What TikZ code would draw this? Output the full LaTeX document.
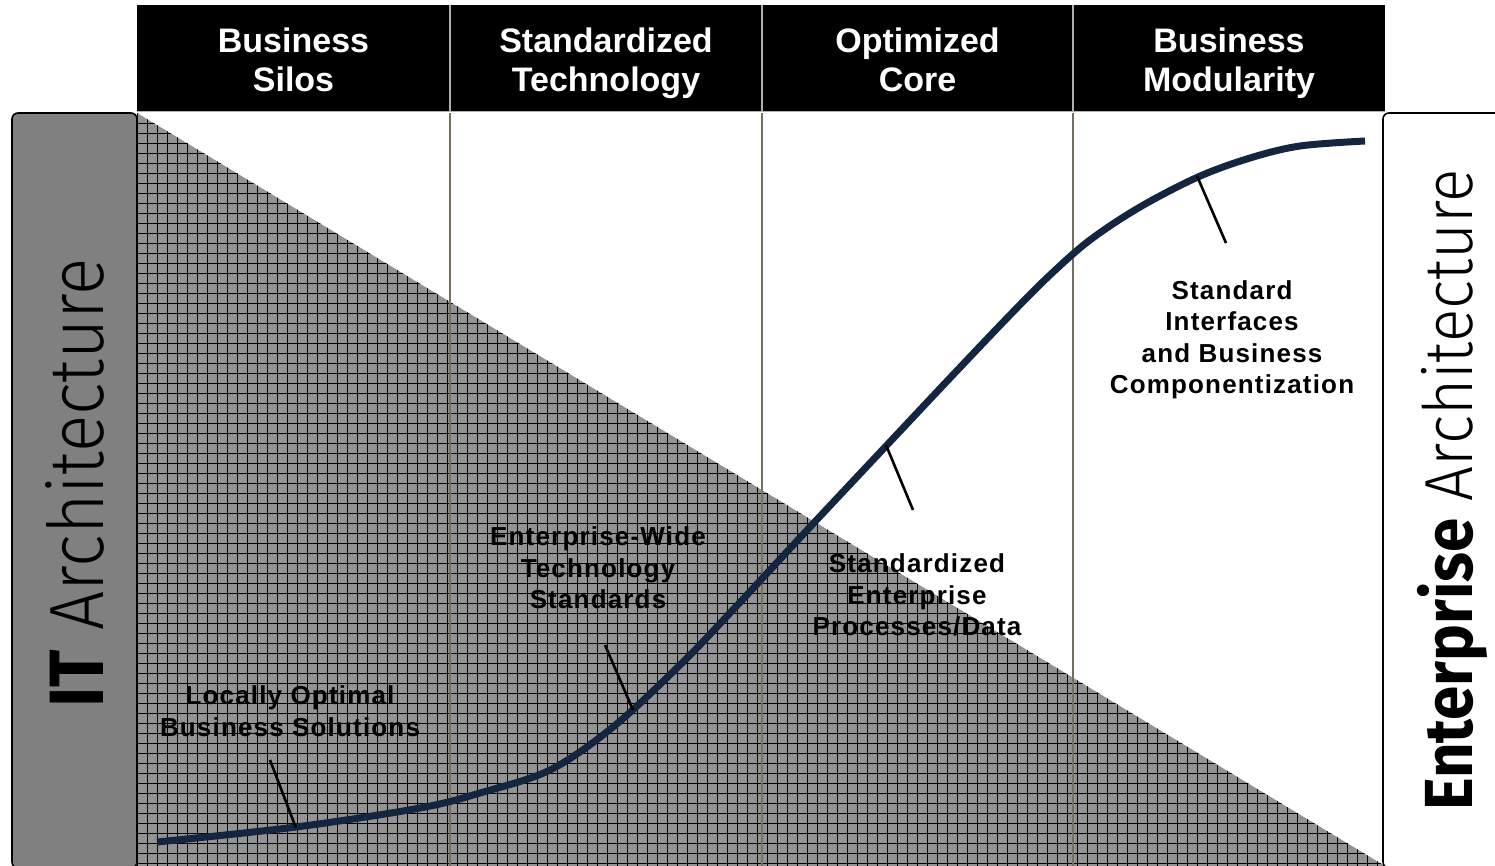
\documentclass[tikz,border=0pt]{standalone}
\usepackage{fontspec}
\setmainfont{Liberation Sans}
\newfontfamily\lblf{Liberation Sans}[LetterSpace=4.5]
\newfontfamily\sidef{Fira Sans}
\newfontfamily\lightf{Fira Sans Light}
\definecolor{gridgray}{HTML}{939393}
\definecolor{boxgray}{HTML}{808080}
\definecolor{navy}{HTML}{14263F}
\definecolor{divider}{HTML}{77705F}
\definecolor{headdiv}{HTML}{B0B0B0}
\tikzset{
  hdr/.style={text=white, anchor=base, font=\bfseries\fontsize{34}{40}\selectfont, inner sep=0pt},
  lbl/.style={text=black, align=center, font=\lblf\bfseries\fontsize{26}{31.5}\selectfont, inner sep=0pt},
  tick/.style={line width=2.6pt, black},
  curve/.style={line width=7pt, navy},
  side/.style={rotate=90, anchor=base, inner sep=0pt}
}
\begin{document}
\begin{tikzpicture}[x=1pt,y=-1pt]
\useasboundingbox (0,0) rectangle (1495,866);
% triangle with grid
\begin{scope}
  \clip (137,113) -- (137,866) -- (1385,866) -- cycle;
  \fill[gridgray] (137,113) rectangle (1385,866);
  \foreach \x in {137,147,...,1385} \draw[black, line width=0.75pt] (\x,113) -- (\x,866);
  \foreach \y in {113,123,...,866} \draw[black, line width=0.75pt] (137,\y) -- (1385,\y);
\end{scope}
% body dividers
\foreach \x in {450,762,1073} \draw[divider, line width=1.2pt] (\x,113) -- (\x,866);
% header
\fill[black] (137,5) rectangle (1385,112);
\foreach \x in {450,762,1073} \draw[headdiv, line width=1.2pt] (\x,5) -- (\x,112);
\draw[headdiv, line width=1pt] (137,112) -- (1385,112);
\node[hdr] (h1a) at (293.5,53) {Business};
\node[hdr] (h1b) at (293.5,92) {Silos};
\node[hdr] (h2a) at (606,53) {Standardized};
\node[hdr] (h2b) at (606,92) {Technology};
\node[hdr] (h3a) at (917.5,53) {Optimized};
\node[hdr] (h3b) at (917.5,92) {Core};
\node[hdr] (h4a) at (1229,53) {Business};
\node[hdr] (h4b) at (1229,92) {Modularity};
% side boxes
\draw[fill=boxgray, line width=1.6pt, rounded corners=6pt] (12,113) rectangle (137,868);
\draw[fill=white, line width=1.6pt, rounded corners=6pt] (1383,113) rectangle (1510,868);
\node[side] (itlab) at (103,483) {\scalebox{0.9}[1]{\fontsize{77}{80}\selectfont{\sidef\bfseries IT} {\lightf Architecture}}};
\node[side] (ealab) at (1472,490) {\scalebox{0.91}[1]{\fontsize{68}{72}\selectfont{\sidef\bfseries Enterprise} {\lightf Architecture}}};
% curve
\draw[curve, line cap=butt] plot[smooth, tension=0.55] coordinates {
  (157,842) (296,827) (420,808) (480,793) (550,770) (613,727) (680,665) (730,613)
  (810,527) (887,445) (950,378) (1010,315) (1050,275) (1090,240) (1140,207)
  (1198,177) (1250,158) (1300,146) (1365,141)};
% labels
\node[lbl] (l1) at (290,711) {Locally Optimal\\Business Solutions};
\node[lbl] (l2) at (598,568) {Enterprise-Wide\\Technology\\Standards};
\node[lbl] (l3) at (917,595) {Standardized\\Enterprise\\Processes/Data};
\node[lbl] (l4) at (1232,340) {Standard\\Interfaces\\and Business\\Componentization};
% ticks
\coordinate (t1a) at (296,828); \coordinate (t1b) at (270,760);
\coordinate (t2a) at (633,710); \coordinate (t2b) at (605,645);
\coordinate (t3a) at (886,445); \coordinate (t3b) at (913,510);
\coordinate (t4a) at (1197,176); \coordinate (t4b) at (1226,243);
\draw[tick] (t1a) -- (t1b);
\draw[tick] (t2a) -- (t2b);
\draw[tick] (t3a) -- (t3b);
\draw[tick] (t4a) -- (t4b);
\end{tikzpicture}
\end{document}
